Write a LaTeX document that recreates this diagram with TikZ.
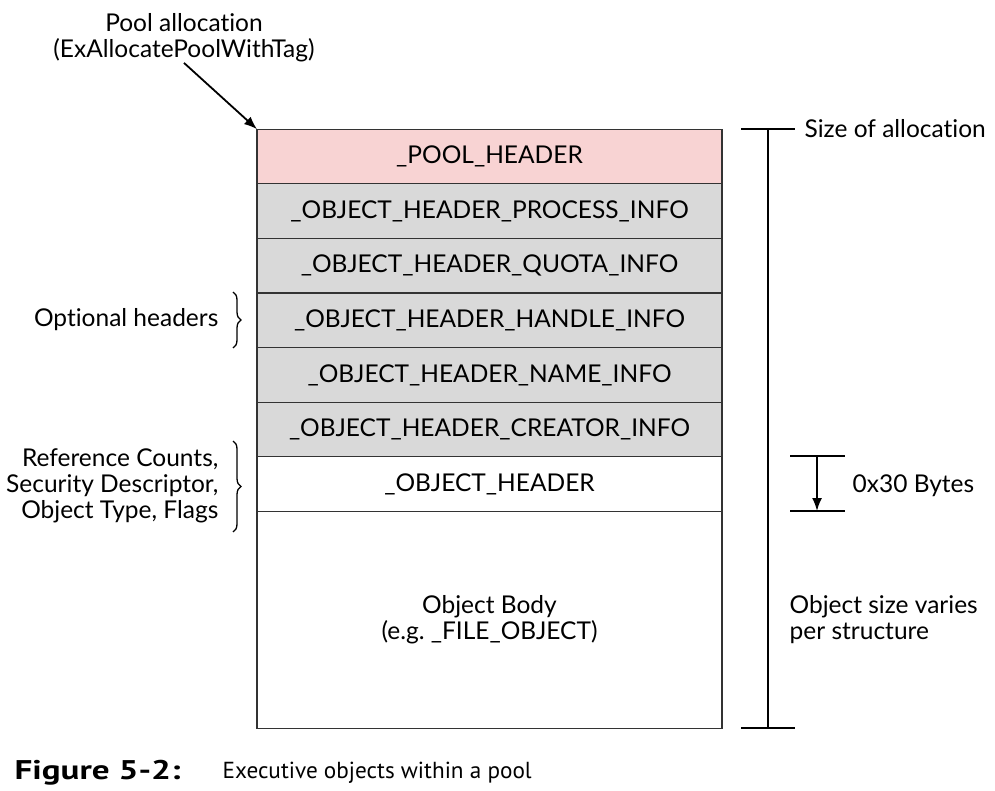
\documentclass[tikz,border=0pt]{standalone}
\usepackage{fontspec}
\setmainfont{Lato}[Ligatures=NoCommon]
\newfontfamily\capfont{PT Sans}
\newfontfamily\figfont{PT Sans}[FakeStretch=1.3]
\usetikzlibrary{chains,positioning,decorations.pathreplacing,arrows.meta}
\definecolor{poolpink}{HTML}{F8D3D3}
\definecolor{hdrgray}{HTML}{D9D9D9}
\definecolor{edge}{HTML}{333333}
\begin{document}
\begin{tikzpicture}[
x=1pt,y=-1pt,
line width=1.3pt,
lbl/.style={
  font=\fontsize{24.5}{26}\selectfont,
  inner sep=0pt
},
row/.style={
  draw=edge,
  outer sep=0pt,
  inner sep=0pt,
  minimum width=465pt,
  minimum height=54.6pt,
  font=\fontsize{24.5}{26}\selectfont,
  on chain
},
brc/.style={
  decorate,
  decoration={brace,amplitude=8pt}
},
arr/.style={
  line width=1.8pt,
  -{Latex[length=13pt,width=10pt]}
},
start chain=going below,node distance=0pt
]
\useasboundingbox (0,0) rectangle (995,791);
\node[row,fill=poolpink] at (489.5,156.5) 
  (pool) {\_POOL\_HEADER};
\node[row,fill=hdrgray] 
  (proc) {\_OBJECT\_HEADER\_PROCESS\_INFO};
\node[row,fill=hdrgray] 
  (quota) {\_OBJECT\_HEADER\_QUOTA\_INFO};
\node[row,fill=hdrgray] 
  (handle) {\_OBJECT\_HEADER\_HANDLE\_INFO};
\node[row,fill=hdrgray] 
  (name) {\_OBJECT\_HEADER\_NAME\_INFO};
\node[row,fill=hdrgray] 
  (creator) {\_OBJECT\_HEADER\_CREATOR\_INFO};
\node[row] 
  (objhdr) {\_OBJECT\_HEADER};
\node[row,minimum height=217pt,align=center] 
  (body) {Object Body\\(e.g.\ \_FILE\_OBJECT)};

\node[lbl,align=center] at (184,38) 
  (alloc) {Pool allocation\\(ExAllocatePoolWithTag)};
\draw[arr] (alloc.south) -- (pool.north west);

% size of allocation
\coordinate (stop) at (768,129);
\coordinate (sbot) at (768,728);
\draw (stop) -- (sbot);
\draw ([xshift=-27pt]stop) -- ([xshift=27pt]stop);
\draw ([xshift=-27pt]sbot) -- ([xshift=27pt]sbot);
\node[lbl,anchor=west] at (804,129) 
  (size) {Size of allocation};
\node[lbl,anchor=west,align=left] at (789,620) 
  (varies) {Object size varies\\per structure};

% header size
\coordinate (htop) at (817,456);
\coordinate (hbot) at (817,511);
\draw ([xshift=-27pt]htop) -- ([xshift=28pt]htop);
\draw ([xshift=-27pt]hbot) -- ([xshift=28pt]hbot);
\draw[arr] (htop) -- (hbot);
\node[lbl,anchor=west] at (852,486) 
  (bytes) {0x30 Bytes};

% braces
\draw[brc] (233,292) -- (233,348);
\node[lbl,anchor=east] at (219,320) 
  (opt) {Optional headers};
\draw[brc] (233,441) -- (233,532);
\node[lbl,anchor=east,align=right] at (219,486) 
  (refs) {Reference Counts,\\Security Descriptor,\\Object Type, Flags};

\node[anchor=west,inner sep=0pt,font=\figfont\bfseries\fontsize{27}{28}\selectfont] at (14,773) 
  (fig) {Figure 5-2:};
\node[anchor=west,inner sep=0pt,font=\capfont\fontsize{23.2}{28}\selectfont] at (222,773) 
  (cap) {Executive objects within a pool};
\end{tikzpicture}
\end{document}
